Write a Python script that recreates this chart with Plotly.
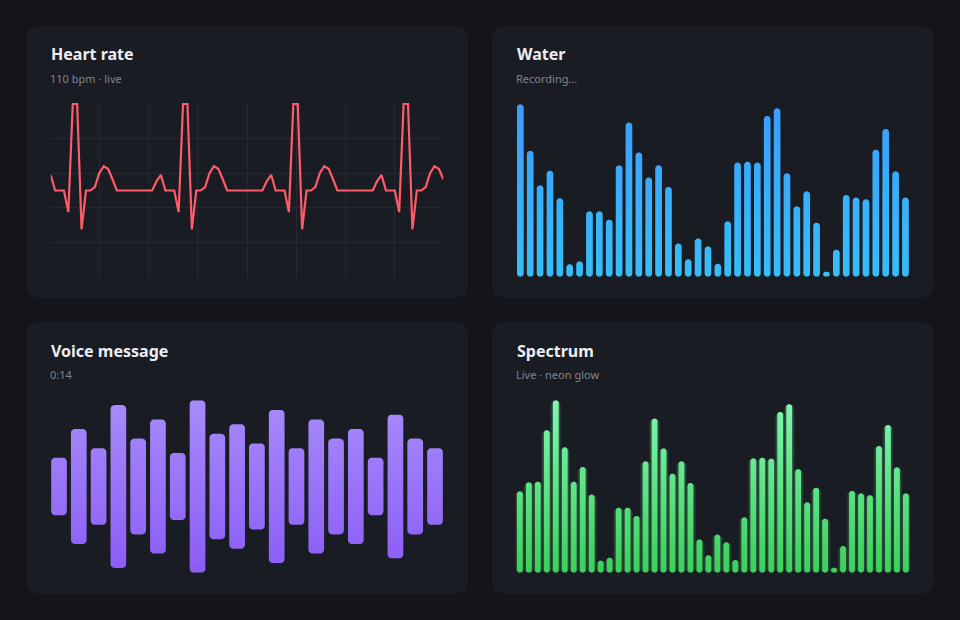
import math
import plotly.graph_objects as go

W, H = 960, 620

# ---------------- data ----------------
heart_rate = [
    0.18, 0, 0, 0, -0.25, 1.0, 1.0, -0.45, 0, 0, 0.04, 0.2, 0.28, 0.25, 0.13, 0, 0, 0, 0, 0, 0, 0, 0, 0, 0.11,
    0.18, 0, 0, 0, -0.25, 1.0, 1.0, -0.45, 0, 0, 0.04, 0.2, 0.28, 0.25, 0.13, 0, 0, 0, 0, 0, 0, 0, 0, 0, 0.11,
    0.18, 0, 0, 0, -0.25, 1.0, 1.0, -0.45, 0, 0, 0.04, 0.2, 0.28, 0.25, 0.13, 0, 0, 0, 0, 0, 0, 0, 0, 0, 0.11,
    0.18, 0, 0, 0, -0.25, 1.0, 1.0, -0.45, 0, 0, 0.04, 0.2, 0.28, 0.25, 0.13,
]
water_levels = [
    1.00, 0.73, 0.53, 0.615, 0.455, 0.072, 0.089, 0.379, 0.379, 0.331,
    0.646, 0.894, 0.721, 0.576, 0.646, 0.52, 0.193, 0.101, 0.222, 0.176,
    0.075, 0.321, 0.663, 0.667, 0.662, 0.932, 0.977, 0.60, 0.408, 0.495,
    0.313, 0.029, 0.157, 0.474, 0.46, 0.449, 0.737, 0.857, 0.611, 0.46,
]
voice_amplitudes = [
    0.30, 0.60, 0.40, 0.85, 0.50, 0.70, 0.35, 0.90, 0.55, 0.65,
    0.45, 0.80, 0.40, 0.70, 0.50, 0.60, 0.30, 0.75, 0.50, 0.40,
]
spectrum_levels = [
    0.472, 0.524, 0.528, 0.826, 1.00, 0.727, 0.528, 0.613, 0.453, 0.070,
    0.087, 0.377, 0.377, 0.329, 0.646, 0.894, 0.721, 0.574, 0.646, 0.52,
    0.193, 0.101, 0.221, 0.176, 0.074, 0.321, 0.663, 0.667, 0.662, 0.932,
    0.977, 0.60, 0.408, 0.493, 0.313, 0.029, 0.155, 0.474, 0.46, 0.449,
    0.735, 0.857, 0.611, 0.46,
]
titles = ["Heart rate", "Water", "Voice message", "Spectrum"]
subtitles = ["110 bpm · live", "Recording…", "0:14", "Live · neon glow"]

# ---------------- style ----------------
PAGE_BG = "#13151a"
CARD_BG = "#1a1c23"
TITLE_C = "#eceef3"
SUB_C = "#80848f"
GRID_C = "#262933"
FONT = "Noto Sans"

cards = [(26, 26, 468, 298), (492, 26, 934, 298), (26, 322, 468, 594), (492, 322, 934, 594)]

# plot areas in pixels (x0, x1, ytop, ybottom)
HEART_BOX = (50.7, 443.3, 102.3, 278.7)
WATER_BOX = (515.4, 910.4, 104.3, 276.7)
VOICE_BOX = (49.1, 444.9, 400.3, 572.7)
SPEC_BOX = (515.4, 910.4, 400.3, 572.7)


def dom_x(b):
    return [b[0] / W, b[1] / W]


def dom_y(b):
    return [1 - b[3] / H, 1 - b[2] / H]


def rounded_bar(xc, y0, y1, half_w, radius, ux, uy, n=8):
    """Rounded rectangle around a bar (data coords), sized in pixels."""
    h_px = (y1 - y0) * uy
    r = max(min(radius, half_w, h_px / 2), 0.01)
    xs, ys = [], []
    corners = [(half_w - r, h_px - r, 0, 90), (-half_w + r, h_px - r, 90, 180),
               (-half_w + r, r, 180, 270), (half_w - r, r, 270, 360)]
    for cx, cy, a0, a1 in corners:
        for k in range(n + 1):
            a = math.radians(a0 + (a1 - a0) * k / n)
            xs.append(xc + (cx + r * math.cos(a)) / ux)
            ys.append(y0 + (cy + r * math.sin(a)) / uy)
    xs.append(None)
    ys.append(None)
    return xs, ys


def bar_trace(xcs, y0s, y1s, box, xr, yr, half_w, radius, cs, axis, grad_rng, opacity=1.0):
    ux = (box[1] - box[0]) / (xr[1] - xr[0])
    uy = (box[3] - box[2]) / (yr[1] - yr[0])
    X, Y = [], []
    for xc, a, b in zip(xcs, y0s, y1s):
        xs, ys = rounded_bar(xc, a, b, half_w, radius, ux, uy)
        X += xs
        Y += ys
    return go.Scatter(
        x=X, y=Y, mode="lines", fill="toself", line=dict(width=0, simplify=False),
        fillgradient=dict(type="vertical", colorscale=cs, start=grad_rng[0], stop=grad_rng[1]),
        opacity=opacity, hoverinfo="skip", showlegend=False,
        xaxis="x" + axis, yaxis="y" + axis,
    )


fig = go.Figure()

# ---- Heart rate ----
hx = list(range(len(heart_rate)))
fig.add_trace(go.Scatter(
    x=hx, y=heart_rate, mode="lines",
    line=dict(color="#ff5b6b", width=2.2, simplify=False),
    hoverinfo="skip", showlegend=False, xaxis="x", yaxis="y",
))
heart_xr = [0, len(heart_rate) - 1]
heart_yr = [-1.0197, 1.0197]

# ---- Water ----
wx = list(range(len(water_levels)))
water_xr = [-0.5, len(water_levels) - 0.5]
water_yr = [0, 1]
fig.add_trace(bar_trace(wx, [0] * len(wx), water_levels, WATER_BOX, water_xr, water_yr,
                        3.35, 3.35, [[0, "#38bdf8"], [1, "#3b9dff"]], "2", (0, 1)))

# ---- Voice ----
vx = list(range(len(voice_amplitudes)))
voice_xr = [-0.5, len(voice_amplitudes) - 0.5]
voice_yr = [-0.45, 0.45]
fig.add_trace(bar_trace(vx, [-a / 2 for a in voice_amplitudes], [a / 2 for a in voice_amplitudes],
                        VOICE_BOX, voice_xr, voice_yr, 7.85, 4.0,
                        [[0, "#8b5cf6"], [1, "#a78bfa"]], "3", (-0.45, 0.45)))

# ---- Spectrum (glow + bars) ----
sx = list(range(len(spectrum_levels)))
spec_xr = [-0.5, len(spectrum_levels) - 0.5]
spec_yr = [0, 1]
glow_cs = [[0, "rgba(63,209,96,1)"], [1, "rgba(128,248,176,1)"]]
fig.add_trace(bar_trace(sx, [0] * len(sx), spectrum_levels, SPEC_BOX, spec_xr, spec_yr,
                        5.6, 5.6, glow_cs, "4", (0, 1), opacity=0.08))
fig.add_trace(bar_trace(sx, [0] * len(sx), spectrum_levels, SPEC_BOX, spec_xr, spec_yr,
                        4.2, 4.2, glow_cs, "4", (0, 1), opacity=0.18))
fig.add_trace(bar_trace(sx, [0] * len(sx), spectrum_levels, SPEC_BOX, spec_xr, spec_yr,
                        2.9, 2.9, [[0, "#3ccf5a"], [1, "#80f7b0"]], "4", (0, 1)))

# ---------------- layout ----------------
def hidden_axis(domain, rng):
    return dict(domain=domain, range=rng, showgrid=False, zeroline=False, showticklabels=False,
                ticks="", showline=False, fixedrange=True)


layout = dict(
    width=W, height=H, margin=dict(l=0, r=0, t=0, b=0),
    paper_bgcolor=PAGE_BG, plot_bgcolor="rgba(0,0,0,0)",
    showlegend=False, font=dict(family=FONT, color=TITLE_C),
    xaxis=dict(domain=dom_x(HEART_BOX), range=heart_xr, showgrid=True, gridcolor=GRID_C, gridwidth=1,
               tickvals=[heart_xr[1] * k / 8 for k in range(1, 8)], showticklabels=False,
               zeroline=False, ticks="", showline=False, fixedrange=True),
    yaxis=dict(domain=dom_y(HEART_BOX), range=heart_yr, showgrid=True, gridcolor=GRID_C, gridwidth=1,
               tickvals=[-0.6, -0.2, 0.2, 0.6], showticklabels=False,
               zeroline=False, ticks="", showline=False, fixedrange=True),
    xaxis2=hidden_axis(dom_x(WATER_BOX), water_xr), yaxis2=hidden_axis(dom_y(WATER_BOX), water_yr),
    xaxis3=hidden_axis(dom_x(VOICE_BOX), voice_xr), yaxis3=hidden_axis(dom_y(VOICE_BOX), voice_yr),
    xaxis4=hidden_axis(dom_x(SPEC_BOX), spec_xr), yaxis4=hidden_axis(dom_y(SPEC_BOX), spec_yr),
)


def rrect(x0, y0, x1, y1, r):
    def P(x, y):
        return f"{x / W:.6f},{1 - y / H:.6f}"
    return (f"M {P(x0 + r, y0)} L {P(x1 - r, y0)} Q {P(x1, y0)} {P(x1, y0 + r)} "
            f"L {P(x1, y1 - r)} Q {P(x1, y1)} {P(x1 - r, y1)} L {P(x0 + r, y1)} "
            f"Q {P(x0, y1)} {P(x0, y1 - r)} L {P(x0, y0 + r)} Q {P(x0, y0)} {P(x0 + r, y0)} Z")


shapes = []
annotations = []
for (x0, y0, x1, y1), t, s in zip(cards, titles, subtitles):
    shapes.append(dict(type="path", xref="paper", yref="paper", path=rrect(x0, y0, x1, y1, 14),
                       fillcolor=CARD_BG, line=dict(width=0), layer="below"))
    annotations.append(dict(text=t, x=(x0 + 22.5) / W, y=1 - (y0 + 28.5) / H, xref="paper", yref="paper",
                            xanchor="left", yanchor="middle", showarrow=False,
                            font=dict(family=FONT, size=16, color=TITLE_C, weight=700)))
    annotations.append(dict(text=s, x=(x0 + 21.8) / W, y=1 - (y0 + 52.5) / H, xref="paper", yref="paper",
                            xanchor="left", yanchor="middle", showarrow=False,
                            font=dict(family=FONT, size=11, color=SUB_C)))

layout["shapes"] = shapes
layout["annotations"] = annotations
fig.update_layout(**layout)

fig.write_html("out.html", config={"displayModeBar": False, "staticPlot": True},
               post_script="document.body.style.margin='0';document.body.style.overflow='hidden';")
